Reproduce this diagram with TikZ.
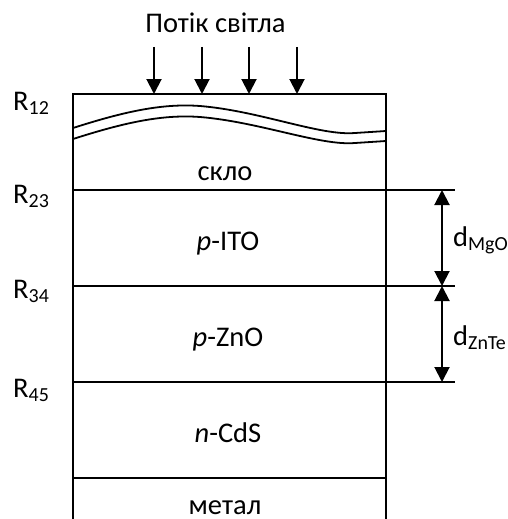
\documentclass[tikz,border=0pt]{standalone}
\usepackage{fontspec}
\setmainfont{Carlito}
\usetikzlibrary{arrows.meta}
\begin{document}
\begin{tikzpicture}[x=1pt,y=-1pt,
  layer/.style={line width=2.4pt},
  lbl/.style={font=\fontsize{28.5}{33}\selectfont, inner sep=0pt, anchor=base},
  wave/.style={line width=1.8pt},
  lightarrow/.style={line width=2pt,-{Triangle[width=15pt,length=15pt]}},
  dimarrow/.style={line width=2pt,{Triangle[width=15pt,length=15pt]}-{Triangle[width=15pt,length=15pt]}}]
\useasboundingbox (0,0) rectangle (507,519);
% box
\coordinate (tl) at (73,94);
\coordinate (tr) at (386,94);
\draw[layer] (73,530) -- (tl) -- (tr) -- (386,530);
\draw[layer] (73,190) -- (455,190);
\draw[layer] (73,286) -- (455,286);
\draw[layer] (73,382) -- (455,382);
\draw[layer] (73,478) -- (386,478);
% wave
\draw[wave] (73,128) .. controls (120,113) and (160,103) .. (200,106) .. controls (260,111) and (320,136) .. (355,133) .. controls (370,132) .. (386,131);
\draw[wave] (73,139) .. controls (120,124) and (160,114) .. (200,117) .. controls (260,122) and (320,146) .. (355,143) .. controls (370,142) .. (386,141);
% light
\node[lbl] (title) at (215.5,33) {Потік світла};
\foreach \x/\n in {154/a,202/b,249/c,297/d}{
  \coordinate (s\n) at (\x,47);
  \coordinate (e\n) at (\x,94);
  \draw[lightarrow] (s\n) -- (e\n);
}
% layer labels
\node[lbl] (glass) at (225,180) {скло};
\node[lbl] (ito) at (228,250) {\textit{p}-ITO};
\node[lbl] (zno) at (228,346) {\textit{p}-ZnO};
\node[lbl] (cds) at (228,442) {\textit{n}-CdS};
\node[lbl] (met) at (225,514) {метал};
% R labels
\node[lbl,anchor=base west] (r12) at (13,110) {R\textsubscript{12}};
\node[lbl,anchor=base west] (r23) at (13,203) {R\textsubscript{23}};
\node[lbl,anchor=base west] (r34) at (13,298) {R\textsubscript{34}};
\node[lbl,anchor=base west] (r45) at (13,397) {R\textsubscript{45}};
% dimension arrows
\coordinate (d1) at (442,190);
\coordinate (d2) at (442,286);
\coordinate (d3) at (442,382);
\draw[dimarrow] (d1) -- (d2);
\draw[dimarrow] (d2) -- (d3);
\node[lbl,anchor=base west] (dmgo) at (453,246) {d\textsubscript{MgO}};
\node[lbl,anchor=base west] (dznte) at (453,345) {d\textsubscript{ZnTe}};
\end{tikzpicture}
\end{document}
